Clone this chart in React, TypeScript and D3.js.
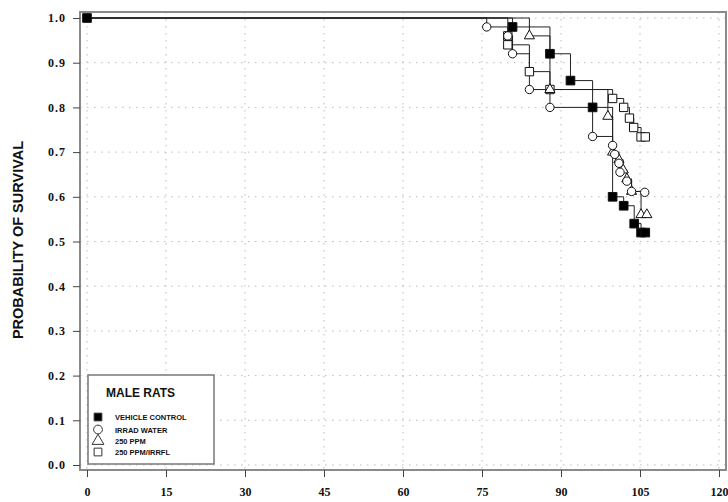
import React from 'react';
import * as d3 from 'd3';

const xTicks = [0, 15, 30, 45, 60, 75, 90, 105, 120];
const yTicks = [0.0, 0.1, 0.2, 0.3, 0.4, 0.5, 0.6, 0.7, 0.8, 0.9, 1.0];

// days on study / probability of survival
const vehicleDays = [0, 80.8, 87.9, 91.8, 96.0, 99.8, 101.9, 103.9, 105.2, 106.0];
const vehicleSurv = [1.0, 0.98, 0.92, 0.86, 0.80, 0.60, 0.58, 0.54, 0.52, 0.52];

const irradDays = [0, 75.9, 79.9, 80.8, 84.0, 87.9, 96.0, 99.8, 100.2, 101.0, 101.2, 102.5, 103.4, 105.9];
const irradSurv = [1.0, 0.98, 0.96, 0.92, 0.84, 0.80, 0.735, 0.715, 0.695, 0.675, 0.655, 0.635, 0.612, 0.61];

const ppmDays = [0, 84.0, 87.9, 98.9, 99.8, 101.0, 101.8, 102.5, 103.4, 105.2, 106.3];
const ppmSurv = [1.0, 0.96, 0.84, 0.78, 0.70, 0.683, 0.66, 0.64, 0.612, 0.56, 0.56];

const irrflDays = [0, 79.9, 79.9, 84.0, 87.9, 99.8, 101.9, 103.0, 103.8, 105.2, 106.0];
const irrflSurv = [1.0, 0.96, 0.94, 0.88, 0.84, 0.82, 0.80, 0.776, 0.755, 0.734, 0.734];

const seriesNames = ['VEHICLE CONTROL', 'IRRAD WATER', '250 PPM', '250 PPM/IRRFL'];

export default function App() {

    const container = React.useRef<SVGGElement>(null);

    const width = 728, height = 502;

    React.useEffect(() => {
        if (!container.current) return;

        const g = d3.select(container.current);
        g.selectAll('*').remove();

        const xScale = d3.scaleLinear().domain([0, 120]).range([87, 719]);
        const yScale = d3.scaleLinear().domain([0, 1]).range([465, 18]);

        const frame = { left: 80, top: 12, right: 726, bottom: 470 };

        // dotted grid
        g.append('g').selectAll('line')
            .data(xTicks)
            .join('line')
            .attr('x1', d => xScale(d)).attr('x2', d => xScale(d))
            .attr('y1', frame.top).attr('y2', frame.bottom)
            .attr('stroke', '#bbb').attr('stroke-dasharray', '1.5,5.5');
        g.append('g').selectAll('line')
            .data(yTicks)
            .join('line')
            .attr('y1', d => yScale(d)).attr('y2', d => yScale(d))
            .attr('x1', frame.left).attr('x2', frame.right)
            .attr('stroke', '#bbb').attr('stroke-dasharray', '1.5,5.5');

        // frame
        g.append('rect')
            .attr('x', frame.left).attr('y', frame.top)
            .attr('width', frame.right - frame.left).attr('height', frame.bottom - frame.top)
            .attr('fill', 'none').attr('stroke', '#8a8a8a').attr('stroke-width', 2);

        // axes
        const xAxis = d3.axisBottom(xScale).tickValues(xTicks).tickSize(7).tickPadding(10).tickFormat(d3.format('d'));
        const yAxis = d3.axisLeft(yScale).tickValues(yTicks).tickSize(7).tickPadding(7).tickFormat(d3.format('.1f'));

        const xg = g.append('g').attr('transform', `translate(0,${frame.bottom})`).call(xAxis);
        const yg = g.append('g').attr('transform', `translate(${frame.left},0)`).call(yAxis);
        [xg, yg].forEach(a => {
            a.select('.domain').remove();
            a.selectAll('line').attr('stroke', '#444');
            a.selectAll('text')
                .attr('font-family', '"Liberation Serif", serif')
                .attr('font-weight', 'bold')
                .attr('font-size', 12)
                .attr('fill', '#111');
        });
        yg.selectAll('text').attr('letter-spacing', 1);

        g.append('text')
            .attr('transform', 'translate(23,240) rotate(-90)')
            .attr('text-anchor', 'middle')
            .attr('font-family', '"Liberation Sans", Arial, sans-serif')
            .attr('font-weight', 'bold')
            .attr('font-size', 14.5)
            .attr('fill', '#111')
            .text('PROBABILITY OF SURVIVAL');

        const series = [
            { days: irrflDays, surv: irrflSurv, symbol: d3.symbolSquare, size: 70, fill: '#fff', start: false },
            { days: ppmDays, surv: ppmSurv, symbol: d3.symbolTriangle, size: 45, fill: '#fff', start: false },
            { days: irradDays, surv: irradSurv, symbol: d3.symbolCircle, size: 55, fill: '#fff', start: false },
            { days: vehicleDays, surv: vehicleSurv, symbol: d3.symbolSquare, size: 75, fill: '#000', start: true },
        ];

        const line = d3.line<[number, number]>()
            .x(d => xScale(d[0]))
            .y(d => yScale(d[1]))
            .curve(d3.curveStepAfter);

        series.forEach(s => {
            const pts: [number, number][] = s.days.map((d, i) => [d, s.surv[i]]);
            g.append('path')
                .attr('d', line(pts))
                .attr('fill', 'none')
                .attr('stroke', '#222')
                .attr('stroke-width', 1);
        });

        series.forEach(s => {
            const pts: [number, number][] = s.days.map((d, i) => [d, s.surv[i]]);
            g.append('g').selectAll('path')
                .data(s.start ? pts : pts.slice(1))
                .join('path')
                .attr('transform', d => `translate(${xScale(d[0])},${yScale(d[1])})`)
                .attr('d', d3.symbol().type(s.symbol).size(s.size)())
                .attr('fill', s.fill)
                .attr('stroke', '#111')
                .attr('stroke-width', 1);
        });

        // legend
        const lg = g.append('g');
        lg.append('rect')
            .attr('x', 88).attr('y', 375).attr('width', 126).attr('height', 89)
            .attr('fill', '#fff').attr('stroke', '#777').attr('stroke-width', 1.5);
        lg.append('text')
            .attr('x', 106).attr('y', 397)
            .attr('font-family', '"Liberation Sans", Arial, sans-serif')
            .attr('font-weight', 'bold')
            .attr('font-size', 12)
            .attr('fill', '#111')
            .text('MALE RATS');

        const legendSymbols = [
            { symbol: d3.symbolSquare, size: 60, fill: '#000' },
            { symbol: d3.symbolCircle, size: 60, fill: '#fff' },
            { symbol: d3.symbolTriangle, size: 60, fill: '#fff' },
            { symbol: d3.symbolSquare, size: 60, fill: '#fff' },
        ];
        const rowY = [417, 429.5, 441, 452];
        seriesNames.forEach((name, i) => {
            lg.append('path')
                .attr('transform', `translate(98,${rowY[i]})`)
                .attr('d', d3.symbol().type(legendSymbols[i].symbol).size(legendSymbols[i].size)())
                .attr('fill', legendSymbols[i].fill)
                .attr('stroke', '#333');
            lg.append('text')
                .attr('x', 115).attr('y', rowY[i] + 3)
                .attr('font-family', '"Liberation Sans", Arial, sans-serif')
                .attr('font-weight', 'bold')
                .attr('font-size', 7.5)
                .attr('fill', '#111')
                .text(name);
        });
    }, []);

    return <svg width={width} height={height}
        style={{ position: 'absolute', left: 0, top: 0, background: '#fff' }}>
        <g ref={container} />
    </svg>;
}
